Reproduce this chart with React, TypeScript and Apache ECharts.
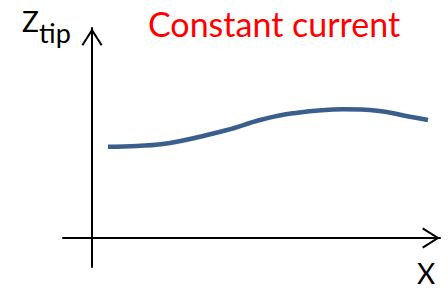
import React, { useEffect, useRef } from "react";
import * as echarts from "echarts";

// Schematic profile: horizontal position (x) vs tip height (z_tip)
const xValues = [16, 45, 78, 135, 168, 201, 251, 285, 318, 336];
const zTip = [91.3, 92, 95, 108, 118, 124.7, 128.7, 127.3, 121.3, 118];
const titleText = "Constant current";
const yLabelMain = "Z";
const yLabelSub = "tip";
const xLabel = "X";

const FONT = "Lato, 'Open Sans', sans-serif";
const chevronUp =
  "path://M10.5 0 L21 16.6 L19.3 17.7 L10.5 3.8 L1.7 17.7 L0 16.6 Z";

export default function App() {
  const ref = useRef<HTMLDivElement>(null);
  useEffect(() => {
    if (!ref.current) return;
    const chart = echarts.init(ref.current, undefined, { renderer: "svg" });
    const axisLine = {
      show: true,
      onZero: true,
      symbol: ["none", chevronUp],
      symbolSize: [21, 18],
      symbolOffset: [0, -9],
      lineStyle: { color: "#000", width: 2 },
    };
    chart.setOption({
      animation: false,
      backgroundColor: "#fff",
      grid: { left: 63, right: 8, top: 28, bottom: 24, containLabel: false },
      xAxis: {
        type: "value",
        min: -29,
        max: 348,
        axisLine,
        axisTick: { show: false },
        axisLabel: { show: false },
        splitLine: { show: false },
      },
      yAxis: {
        type: "value",
        min: -29,
        max: 210,
        axisLine,
        axisTick: { show: false },
        axisLabel: { show: false },
        splitLine: { show: false },
      },
      series: [
        {
          type: "line",
          data: xValues.map((x, i) => [x, zTip[i]]),
          smooth: 0.4,
          showSymbol: false,
          lineStyle: { color: "#3a5f8f", width: 4.5, cap: "butt" },
        },
      ],
      graphic: [
        {
          type: "text",
          style: {
            x: 148,
            y: 6,
            text: titleText,
            font: `34px ${FONT}`,
            fill: "#ff0000",
            textVerticalAlign: "top",
          },
        },
        {
          type: "text",
          style: {
            x: 22,
            y: 7,
            text: yLabelMain,
            font: `28px ${FONT}`,
            fill: "#000",
            textVerticalAlign: "top",
          },
        },
        {
          type: "text",
          style: {
            x: 39,
            y: 19,
            text: yLabelSub,
            font: `27px ${FONT}`,
            fill: "#000",
            textVerticalAlign: "top",
          },
        },
        {
          type: "text",
          style: {
            x: 417,
            y: 259,
            text: xLabel,
            font: `28px ${FONT}`,
            fill: "#000",
            textVerticalAlign: "top",
          },
        },
      ],
    });
    return () => chart.dispose();
  }, []);
  return (
    <div
      ref={ref}
      style={{ position: "absolute", left: 0, top: 0, width: 448, height: 291 }}
    />
  );
}
